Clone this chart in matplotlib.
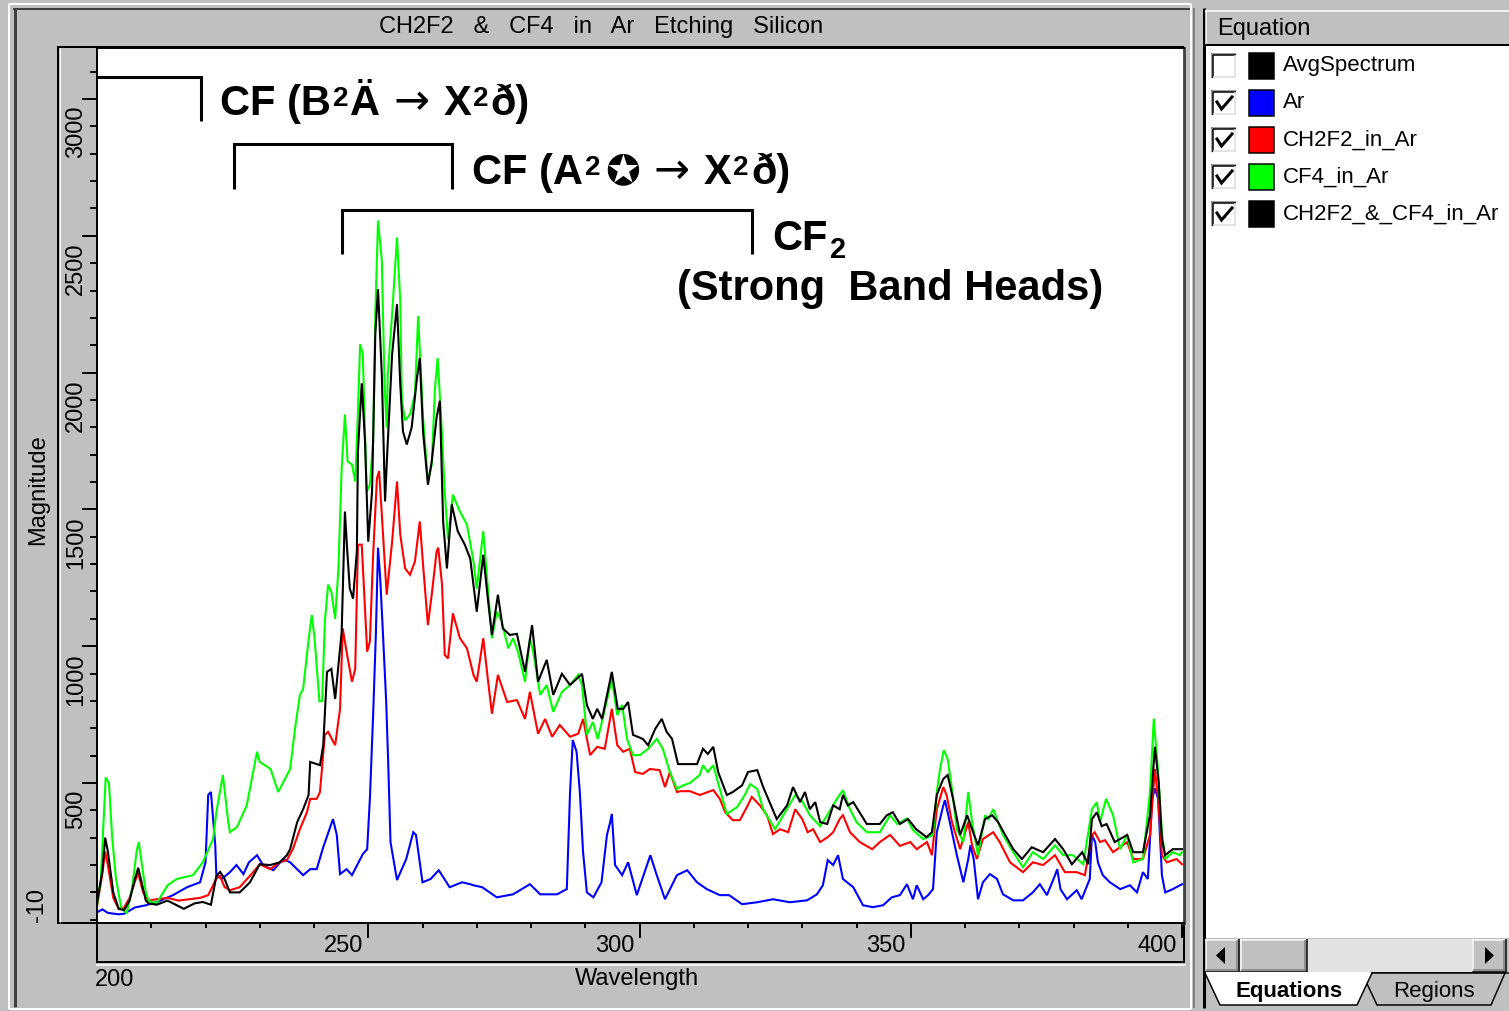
import matplotlib
matplotlib.use("Agg")
import matplotlib.pyplot as plt
import matplotlib.patches as mpatches
import matplotlib.transforms as mtransforms
from matplotlib.ticker import FixedLocator

plt.rcParams['font.family'] = ['Liberation Sans', 'DejaVu Sans']

# ---------------- data ----------------
title_text = "CH2F2   &   CF4   in   Ar   Etching   Silicon"
x_label = "Wavelength"
y_label = "Magnitude"
x_major = [250, 300, 350, 400]
y_major = [500, 1000, 1500, 2000, 2500, 3000]
x_min_label = "200"
y_min_label = "-10"

legend_names = ["AvgSpectrum", "Ar", "CH2F2_in_Ar", "CF4_in_Ar", "CH2F2_&_CF4_in_Ar"]
legend_colors = ["#000000", "#0000ff", "#ff0000", "#00ff00", "#000000"]
legend_checked = [False, True, True, True, True]

ar_points = [
    (200, 27), (201, 38), (202, 25), (204, 20), (205, 22), (207, 45), (209, 53), (211, 64),
    (214, 90), (216.6, 119), (219, 137), (220, 210), (220.5, 456), (221, 467), (221.8, 272),
    (222, 163), (223, 149), (224.5, 174), (225.7, 200), (227, 167), (228, 210), (229.5, 236),
    (230.6, 200), (232.5, 181), (234.3, 222), (235.6, 210), (238, 163), (239.3, 185),
    (240.5, 185), (241.7, 265), (243.5, 368), (244.2, 310), (244.8, 167), (246, 185),
    (247, 163), (249, 240), (249.8, 258), (250.3, 442), (250.9, 749), (251.4, 1042),
    (251.8, 1360), (252.2, 1250), (252.7, 1050), (253.3, 800), (253.7, 560), (254.1, 284),
    (255.3, 145), (257, 222), (258.3, 320), (258.8, 310), (260, 137), (261.5, 149),
    (263, 181), (265, 119), (267.3, 137), (268.8, 130), (269.4, 126), (271, 119),
    (273.7, 82), (276.7, 93), (279.8, 130), (281.7, 93), (284.8, 93), (286.6, 112),
    (287.2, 467), (287.7, 657), (288.4, 614), (289, 467), (289.6, 247), (290.3, 100),
    (291.5, 82), (293, 137), (294, 310), (294.6, 357), (294.9, 387), (295.5, 200),
    (296.8, 163), (297.9, 210), (299.5, 90), (302, 236), (303, 174), (304.7, 75),
    (306.9, 163), (308.8, 181), (310.6, 137), (312.4, 112), (314.8, 90), (316.5, 90),
    (318.9, 57), (321.7, 64), (324.6, 75), (327.7, 64), (330.9, 71), (332.7, 93),
    (333.8, 126), (334.7, 218), (335.7, 200), (336.6, 236), (337.5, 149), (339.4, 119),
    (341.2, 53), (343, 46), (344.9, 53), (346.5, 82), (348, 90), (349.3, 130), (350.4, 75),
    (351.1, 126), (352.3, 75), (353.2, 90), (354.1, 112), (354.8, 320), (356, 418),
    (356.3, 437), (357.2, 357), (358.5, 236), (359.7, 137), (360.6, 222), (361, 272),
    (361.6, 222), (362.4, 75), (363.3, 137), (364.6, 167), (365.9, 149), (367, 93),
    (368.9, 71), (370.7, 71), (372.5, 100), (373.8, 130), (375.1, 90), (376.6, 163),
    (377, 185), (377.6, 112), (378.8, 75), (380.6, 108), (381.5, 75), (383, 149),
    (383.4, 310), (384, 284), (384.5, 210), (385.4, 163), (386.7, 137), (388.6, 112),
    (390.4, 126), (391.7, 100), (392.8, 174), (393.7, 149), (394.5, 442), (395, 480),
    (395.6, 442), (396.3, 163), (396.9, 100), (398.3, 112), (399.6, 126), (400, 130),
]

ch2f2_points = [
    (200, 50), (201, 170), (201.5, 250), (202, 200), (203, 80), (204, 40), (205, 45),
    (206, 80), (207, 140), (207.6, 170), (208.5, 100), (209.5, 70), (211, 75), (213, 80),
    (215, 70), (217, 75), (219, 80), (220.5, 90), (222, 150), (222.7, 160), (223.5, 120),
    (224.5, 108), (226.3, 119), (228.8, 174), (230, 203), (231.9, 185), (233.7, 210),
    (235, 218), (236.1, 258), (237.4, 331), (238.7, 393), (239.3, 442), (240.5, 442),
    (241.1, 467), (242, 676), (242.6, 687), (243.9, 638), (244.8, 771), (245.3, 1065),
    (246, 980), (247, 870), (247.6, 917), (248.1, 1371), (248.8, 1371), (249.8, 980),
    (250.3, 1017), (250.9, 1334), (251.6, 1613), (252, 1640), (252.5, 1481), (253.4, 1188),
    (254.4, 1382), (255.3, 1602), (255.9, 1408), (256.8, 1284), (257.7, 1261), (258.6, 1309),
    (259.5, 1456), (260.1, 1298), (261, 1077), (261.7, 1188), (262.6, 1346), (262.9, 1360),
    (263.6, 1225), (264.1, 968), (264.7, 955), (265.6, 1120), (266.9, 1029), (268.2, 992),
    (269.4, 895), (270, 870), (271.2, 1029), (272.1, 870), (272.8, 753), (273.9, 895),
    (275.6, 796), (277.4, 803), (278.9, 734), (279.8, 833), (281.3, 680), (282.6, 734),
    (283.9, 669), (285.3, 712), (287.2, 669), (288.7, 680), (289.6, 734), (290.9, 602),
    (292.2, 632), (293.6, 625), (294.9, 771), (295.9, 638), (297, 614), (298.2, 625),
    (299.2, 540), (300.6, 533), (301.9, 551), (303.7, 547), (304.7, 485), (305.6, 540),
    (306.9, 467), (307.5, 470), (309.3, 470), (311.1, 456), (313.6, 474), (314.8, 442),
    (315.8, 393), (317.2, 364), (318.5, 364), (319.8, 412), (320.7, 449), (322.2, 418),
    (323.5, 382), (324.6, 313), (325.9, 331), (327.4, 320), (328.7, 404), (330, 368),
    (331, 320), (332, 331), (333.3, 284), (334.7, 302), (335.7, 320), (336.9, 368),
    (337.5, 382), (338.8, 320), (340.6, 284), (342.9, 258), (344.3, 284), (346.2, 310),
    (348, 270), (349.9, 284), (351.1, 258), (353, 284), (353.9, 236), (354.8, 404),
    (356, 485), (356.6, 456), (357.6, 357), (359.1, 258), (360.6, 357), (361.3, 272),
    (362.2, 222), (363.3, 295), (365.2, 320), (366.4, 284), (368.3, 210), (370.7, 174),
    (372.5, 210), (374.4, 200), (376.6, 236), (378.4, 174), (380.6, 174), (382.1, 163),
    (383.4, 310), (383.9, 320), (384.9, 284), (385.8, 291), (387.3, 247), (389.9, 284),
    (391, 222), (392.8, 222), (394.1, 310), (395, 551), (395.6, 442), (396.3, 236),
    (397.2, 210), (399, 222), (400, 203),
]

cf4_points = [
    (200, 50), (200.7, 150), (201.3, 400), (201.6, 520), (202.2, 500), (202.8, 300),
    (203.5, 150), (204.5, 40), (205.5, 25), (206.5, 120), (207.3, 250), (207.7, 284),
    (208.3, 200), (209, 100), (209.5, 70), (211, 60), (213, 126), (214.7, 149), (217.7, 163),
    (219.5, 210), (221.4, 295), (222, 393), (223.2, 529), (224.2, 357), (224.5, 320),
    (225.8, 339), (227.6, 418), (229.5, 614), (230, 577), (232, 551), (233.4, 467),
    (235.6, 551), (236.5, 698), (237.4, 822), (238, 844), (239, 1024), (239.6, 1114),
    (240.1, 1029), (241, 798), (241.5, 800), (242, 1090), (242.6, 1225), (243.2, 1199),
    (243.9, 1100), (244.5, 1284), (245.1, 1650), (245.7, 1847), (246.2, 1675), (247, 1664),
    (247.6, 1602), (248.1, 1858), (248.5, 2104), (249, 2067), (249.7, 1565), (250.3, 1590),
    (250.9, 1750), (251.3, 2214), (251.8, 2556), (252.5, 2410), (253, 1958), (253.4, 1799),
    (253.6, 1994), (254.4, 2214), (255.3, 2494), (255.9, 2263), (256.2, 1897), (256.8, 1825),
    (257.7, 1847), (258.6, 1920), (259.2, 2207), (260.1, 1836), (261, 1602), (261.7, 1664),
    (262.3, 1943), (262.8, 2053), (263.6, 1774), (264.1, 1565), (264.7, 1390), (265.6, 1554),
    (266.9, 1492), (268.2, 1444), (269.4, 1309), (270, 1210), (271.2, 1420), (271.9, 1250),
    (272.8, 1029), (273.7, 1126), (274.6, 1090), (275.8, 992), (276.7, 1029), (277.6, 980),
    (278.9, 870), (279.8, 1029), (280.4, 980), (281.7, 822), (282.9, 858), (284.1, 760),
    (285.7, 833), (287.2, 858), (288.7, 895), (289.4, 858), (290.3, 676), (291.4, 723),
    (292.3, 661), (293.2, 734), (294.9, 880), (295.9, 748), (296.8, 785), (297.7, 661),
    (298.8, 602), (300.1, 602), (301.6, 625), (303.2, 661), (304.3, 625), (305.6, 540),
    (306.9, 478), (308, 491), (309.3, 500), (311.1, 529), (311.7, 565), (312.6, 540),
    (313.6, 565), (314.8, 478), (316.1, 387), (318, 412), (319.4, 456), (320.4, 496),
    (321.7, 478), (322.8, 404), (325, 331), (326.5, 382), (328.7, 456), (330.1, 430),
    (331.4, 382), (333.3, 342), (334.6, 382), (336.4, 442), (337.5, 474), (338.8, 404),
    (340, 357), (341.9, 320), (344.3, 320), (346.2, 382), (347.5, 350), (349.3, 370),
    (350.4, 328), (352.3, 295), (354.1, 310), (354.8, 467), (355.4, 551), (356.1, 620),
    (356.8, 588), (357.6, 478), (358.5, 331), (359.7, 284), (360.6, 467), (361.3, 357),
    (362.4, 236), (363.7, 382), (364.3, 368), (365.2, 404), (366.1, 357), (367, 310),
    (368.9, 247), (370.7, 192), (372.5, 247), (374.4, 222), (376.6, 272), (378.1, 236),
    (379.9, 236), (381.8, 203), (383.4, 404), (384.3, 430), (384.9, 357), (386, 442),
    (387.3, 382), (388.6, 258), (389.9, 310), (391, 210), (392.8, 222), (394.1, 467),
    (394.8, 735), (395.5, 565), (396.3, 320), (396.9, 222), (398.3, 247), (399.6, 236),
    (400, 247),
]

mix_points = [
    (200, 60), (201, 180), (201.5, 300), (202, 250), (203, 100), (204, 40), (205, 35),
    (206, 70), (207, 150), (207.6, 190), (208.3, 130), (209, 70), (209.5, 60), (211, 55),
    (213, 70), (215, 50), (216, 40), (218, 60), (219.5, 65), (221, 55), (222, 160),
    (222.7, 175), (223.5, 150), (224.5, 100), (226.3, 100), (228.2, 137), (230, 203),
    (231.9, 200), (233.7, 210), (235, 236), (235.6, 258), (236.9, 357), (238, 404),
    (239, 456), (239.3, 577), (241.1, 565), (241.7, 638), (242.4, 906), (243.2, 917),
    (243.9, 807), (244.5, 931), (245.1, 1052), (245.7, 1492), (246.1, 1357), (246.6, 1210),
    (247.2, 1174), (247.9, 1346), (248.1, 1712), (248.8, 1961), (249.4, 1750), (250, 1382),
    (250.7, 1565), (251.3, 2140), (251.8, 2305), (252.5, 1994), (253.1, 1529), (253.4, 1664),
    (254.4, 2067), (255.3, 2250), (255.9, 1958), (256.4, 1785), (257.1, 1737), (258, 1799),
    (259, 1983), (259.5, 2053), (260.1, 1785), (261, 1590), (261.7, 1675), (262.6, 1836),
    (263.2, 1897), (263.8, 1456), (264.5, 1284), (265.4, 1518), (266.5, 1420), (267.8, 1371),
    (268.8, 1320), (270, 1126), (271.2, 1334), (272.1, 1163), (272.8, 1041), (273.9, 1188),
    (274.8, 1065), (276.1, 1041), (277.4, 1045), (278.9, 906), (280.2, 1077), (281.3, 870),
    (282.9, 950), (284.1, 822), (285.7, 899), (287.2, 858), (289.4, 899), (290.3, 785),
    (291.4, 734), (292.2, 771), (293.1, 734), (294.9, 906), (296, 771), (297, 771),
    (297.9, 796), (298.8, 676), (300.6, 661), (301.6, 638), (302.9, 698), (304.1, 734),
    (305, 687), (306, 661), (307.1, 569), (308.8, 569), (310.6, 569), (311.7, 625),
    (312.6, 606), (313.6, 632), (314.5, 540), (316.1, 456), (317.2, 467), (318.9, 491),
    (320, 540), (321.7, 547), (322.8, 485), (325.3, 368), (327.2, 418), (328.3, 485),
    (329.6, 430), (330.5, 467), (331.4, 404), (332.4, 430), (333.3, 357), (334.6, 350),
    (335.7, 418), (336.9, 404), (337.5, 456), (338.4, 418), (339.4, 430), (341.9, 350),
    (344.3, 350), (345.6, 382), (346.7, 393), (348, 350), (349.5, 368), (351, 331),
    (352.9, 302), (353.9, 320), (354.8, 456), (356, 515), (356.8, 529), (357.8, 442),
    (359.1, 310), (360.4, 382), (361.3, 331), (362.4, 272), (363.7, 368), (365, 382),
    (366.1, 357), (367.4, 310), (368.9, 258), (370.5, 222), (372.3, 265), (374.4, 247),
    (376.6, 295), (378.1, 258), (379.7, 203), (381.6, 247), (382.7, 203), (383.4, 368),
    (384.3, 393), (385.2, 342), (386.1, 350), (387.6, 284), (389.9, 310), (391, 247),
    (392.8, 247), (394.1, 382), (395, 632), (395.7, 504), (396.3, 295), (396.9, 236),
    (398.3, 258), (400, 258),
]

# annotation brackets (wavelength start, end, top level, leg bottom)
bracket_cf_b = (200.0, 219.1, 3080, 2921)
bracket_cf_a = (225.3, 265.5, 2835, 2672)
bracket_cf2 = (245.2, 320.8, 2594, 2433)

# ---------------- figure ----------------
W, H = 1509, 1011
GRAY = '#c0c0c0'
fig = plt.figure(figsize=(W / 100, H / 100), dpi=100, facecolor=GRAY)

bg = fig.add_axes([0, 0, 1, 1], zorder=0)
bg.set_xlim(0, W)
bg.set_ylim(H, 0)
bg.axis('off')

PT = 0.72  # points per pixel


def line(xs, ys, color='black', w=1.0, z=2):
    bg.plot(xs, ys, color=color, lw=w * PT, solid_capstyle='butt', zorder=z)


def rect(x0, y0, x1, y1, face, edge='none', w=1.0, z=1):
    bg.add_patch(mpatches.Rectangle((x0, y0), x1 - x0, y1 - y0, facecolor=face,
                                    edgecolor=edge, lw=w * PT, zorder=z))


def raised(x0, y0, x1, y1, face=GRAY):
    rect(x0, y0, x1, y1, face)
    line([x0, x1], [y0 + 0.5, y0 + 0.5], 'white', 1.5)
    line([x0 + 0.5, x0 + 0.5], [y0, y1], 'white', 1.5)
    line([x0, x1], [y1 - 0.5, y1 - 0.5], 'black', 1.5)
    line([x1 - 0.5, x1 - 0.5], [y0, y1], 'black', 1.5)
    line([x0 + 1, x1 - 1.5], [y1 - 2, y1 - 2], '#808080', 1.5)
    line([x1 - 2, x1 - 2], [y0 + 1, y1 - 1.5], '#808080', 1.5)


def sunken(x0, y0, x1, y1, face='white'):
    rect(x0, y0, x1, y1, face)
    line([x0, x1], [y0 + 0.5, y0 + 0.5], '#808080', 1.5)
    line([x0 + 0.5, x0 + 0.5], [y0, y1], '#808080', 1.5)
    line([x0 + 1.5, x1 - 1], [y0 + 2, y0 + 2], 'black', 1.5)
    line([x0 + 2, x0 + 2], [y0 + 1.5, y1 - 1], 'black', 1.5)
    line([x0, x1], [y1 - 0.5, y1 - 0.5], 'white', 1.5)
    line([x1 - 0.5, x1 - 0.5], [y0, y1], 'white', 1.5)
    line([x0 + 1.5, x1 - 1.5], [y1 - 2, y1 - 2], '#dcdcdc', 1.5)
    line([x1 - 2, x1 - 2], [y0 + 1.5, y1 - 1.5], '#dcdcdc', 1.5)


# chart panel borders
line([9, 9], [4, 1009], 'white', 2)
line([9, 1191], [4, 4], 'white', 2)
line([14.5, 14.5], [8, 1007], '#404040', 3)
line([13, 1190], [8.5, 8.5], '#404040', 2)
line([9, 1191], [1008.5, 1008.5], 'white', 2)
line([1190.5, 1190.5], [4, 1009], 'white', 2)

# axis strips
line([58, 1184], [47, 47], 'black', 2)
line([58, 58], [46, 923.5], 'black', 2)
line([58, 97], [923, 923], 'black', 2)
line([97, 97], [922, 963], 'black', 2)
line([96, 1185], [962, 962], 'black', 2)
line([1184, 1184], [922, 963], 'black', 2)
line([96, 1186], [964.5, 964.5], 'white', 1.5)
line([59.5, 59.5], [48, 922], 'white', 1.0)

# right panel
line([1194, 1194], [8, 1008], '#808080', 2)
line([1203.5, 1203.5], [8, 1008], 'black', 3)
rect(1205, 10, 1509, 45, GRAY)
line([1205, 1509], [11, 11], 'white', 1.5)
line([1206, 1206], [10, 45], 'white', 1.5)
line([1205, 1509], [44.5, 44.5], 'black', 2)
bg.text(1217, 29, "Equation", fontsize=17, va='center', ha='left', color='black')
rect(1205, 46, 1509, 938, 'white')

for i, (name, col, chk) in enumerate(zip(legend_names, legend_colors, legend_checked)):
    by = 53 + 37 * i
    sunken(1211, by, 1237, by + 26, 'white')
    if chk:
        bg.plot([1217, 1221.5, 1232], [by + 12, by + 19, by + 7], color='black',
                lw=3 * PT, solid_joinstyle='miter', zorder=3)
    rect(1249, by, 1274, by + 26, col, 'black', 1.5, z=3)
    bg.text(1283, by + 13, name, fontsize=16, va='center', ha='left', color='black')

# scrollbar
raised(1205, 939, 1239, 972)
raised(1240, 939, 1307, 972)
rect(1307, 939, 1472, 972, '#e2e2e2')
raised(1472, 939, 1506, 972)
bg.add_patch(mpatches.Polygon([(1216, 955.5), (1225, 947), (1225, 964)], closed=True,
                              facecolor='black', edgecolor='none', zorder=4))
bg.add_patch(mpatches.Polygon([(1494, 955.5), (1485, 947), (1485, 964)], closed=True,
                              facecolor='black', edgecolor='none', zorder=4))
line([1205, 1509], [973, 973], 'black', 1.5)

# tabs
bg.add_patch(mpatches.Polygon([(1362, 973), (1377, 1005), (1491, 1005), (1505, 973)],
                              closed=True, facecolor=GRAY, edgecolor='black', lw=1.5 * PT, zorder=3))
bg.add_patch(mpatches.Polygon([(1205, 973), (1220, 1005), (1357, 1005), (1372, 973)],
                              closed=True, facecolor='white', edgecolor='black', lw=1.5 * PT, zorder=4))
line([1206, 1371], [973, 973], 'white', 2, z=5)
bg.text(1289, 991, "Equations", fontsize=16, fontweight='bold', ha='center', va='center', zorder=6)
bg.text(1434, 991, "Regions", fontsize=16, ha='center', va='center', zorder=6)

# ---------------- main plot ----------------
L, R, T, B = 97.0, 1184.0, 48.0, 922.5
ax = fig.add_axes([L / W, 1 - B / H, (R - L) / W, (B - T) / H], zorder=2)
ax.set_facecolor('white')
px_per_nm = 5.425
px_per_unit = 0.27359
ax.set_xlim(200, 200 + (R - L) / px_per_nm)
ax.set_ylim(-10, -10 + (B - T) / px_per_unit)

for pts, col in [(ar_points, '#0000ff'), (ch2f2_points, '#ff0000'),
                 (cf4_points, '#00ff00'), (mix_points, '#000000')]:
    wl = [p[0] for p in pts]
    mag = [p[1] for p in pts]
    ax.plot(wl, mag, color=col, lw=1.5, solid_joinstyle='miter')

# brackets
for (x0, x1, ytop, ybot), left_leg in [(bracket_cf_b, False), (bracket_cf_a, True), (bracket_cf2, True)]:
    xs = ([x0, x0] if left_leg else [x0]) + [x1, x1]
    ys = ([ybot, ytop] if left_leg else [ytop]) + [ytop, ybot]
    ax.plot(xs, ys, color='black', lw=2.2, solid_joinstyle='miter', solid_capstyle='butt')

renderer = fig.canvas.get_renderer()
BOLD_FAM = ['Liberation Sans', 'DejaVu Sans']


def rich_text(x, y, parts):
    """parts: (text, fontsize, rise_px, gap_px, family, weight)"""
    off = 0.0
    for s, fs, rise, gap, fam, wt in parts:
        off += gap
        t = ax.annotate(s, xy=(x, y), xycoords='data', xytext=(off, rise),
                        textcoords='offset pixels', fontsize=fs, fontweight=wt,
                        family=fam, va='baseline', ha='left', color='black',
                        annotation_clip=False)
        off += t.get_window_extent(renderer).width


ARROW = ("→", 31, 1, 14, ['DejaVu Sans'], 'normal')
rich_text(222.7, 2941, [
    ("CF (B", 30, 0, 0, BOLD_FAM, 'bold'),
    ("2", 20, 9, 2, BOLD_FAM, 'bold'),
    ("Ä", 30, 0, 1, BOLD_FAM, 'bold'),
    ARROW,
    ("X", 30, 0, 14, BOLD_FAM, 'bold'),
    ("2", 20, 9, 2, BOLD_FAM, 'bold'),
    ("ð)", 30, 0, 2, BOLD_FAM, 'bold'),
])
rich_text(269.2, 2688, [
    ("CF (A", 30, 0, 0, BOLD_FAM, 'bold'),
    ("2", 20, 9, 2, BOLD_FAM, 'bold'),
    ("✪", 30, 0, 4, ['DejaVu Sans'], 'bold'),
    ARROW,
    ("X", 30, 0, 14, BOLD_FAM, 'bold'),
    ("2", 20, 9, 2, BOLD_FAM, 'bold'),
    ("ð)", 30, 0, 2, BOLD_FAM, 'bold'),
])
rich_text(324.5, 2448, [
    ("CF", 30, 0, 0, BOLD_FAM, 'bold'),
    ("2", 21, -8, 2, BOLD_FAM, 'bold'),
])
ax.text(307.0, 2265, "(Strong  Band Heads)", fontsize=30, fontweight='bold', color='black',
        va='baseline', ha='left', family=BOLD_FAM)

# spines
for s in ['left', 'top', 'bottom']:
    ax.spines[s].set_color('black')
    ax.spines[s].set_linewidth(1.4)
ax.spines['right'].set_color('#404040')
ax.spines['right'].set_linewidth(2.0)

# ticks
ax.xaxis.set_major_locator(FixedLocator(x_major))
ax.xaxis.set_minor_locator(FixedLocator([v for v in range(210, 400, 10) if v % 50]))
ax.yaxis.set_major_locator(FixedLocator(y_major))
ax.yaxis.set_minor_locator(FixedLocator([0] + [v for v in range(100, 3200, 100) if v % 500]))
ax.set_xticklabels([str(v) for v in x_major])
ax.set_yticklabels([str(v) for v in y_major])

ax.tick_params(axis='x', which='major', direction='out', length=15 * PT, width=1.4,
               color='black', pad=-3 * PT, labelsize=17)
ax.tick_params(axis='x', which='minor', direction='out', length=5 * PT, width=1.4, color='black')
ax.tick_params(axis='y', which='major', direction='out', length=15 * PT, width=1.4,
               color='black', pad=-5 * PT, labelsize=17, labelrotation=90)
ax.tick_params(axis='y', which='minor', direction='out', length=7 * PT, width=1.4, color='black')

dx = mtransforms.ScaledTranslation(-5 / 100, 0, fig.dpi_scale_trans)
for lab in ax.get_xticklabels():
    lab.set_ha('right')
    lab.set_transform(lab.get_transform() + dx)
dy = mtransforms.ScaledTranslation(0, -7 / 100, fig.dpi_scale_trans)
for lab in ax.get_yticklabels():
    lab.set_ha('right')
    lab.set_va('top')
    lab.set_transform(lab.get_transform() + dy)

# axis min labels
ax.annotate(x_min_label, xy=(0, 0), xycoords='axes fraction', xytext=(-2, -47),
            textcoords='offset pixels', ha='left', va='top', fontsize=17)
ax.annotate(y_min_label, xy=(0, 0), xycoords='axes fraction', xytext=(-60, 0),
            textcoords='offset pixels', ha='center', va='bottom', rotation=90, fontsize=17)

ax.set_xlabel(x_label, fontsize=17)
ax.xaxis.set_label_coords((637 - L) / (R - L), (B - 968) / (B - T))
ax.set_ylabel(y_label, fontsize=17)
ax.yaxis.label.set_rotation_mode('default')
ax.yaxis.label.set_va('center')
ax.yaxis.set_label_coords((38 - L) / (R - L), (B - 490) / (B - T))

ax.set_title(title_text, x=(601 - L) / (R - L), y=(B - 27) / (B - T), pad=0,
             va='center', ha='center', fontsize=17)

fig.savefig("out.png", dpi=100, facecolor=GRAY)
